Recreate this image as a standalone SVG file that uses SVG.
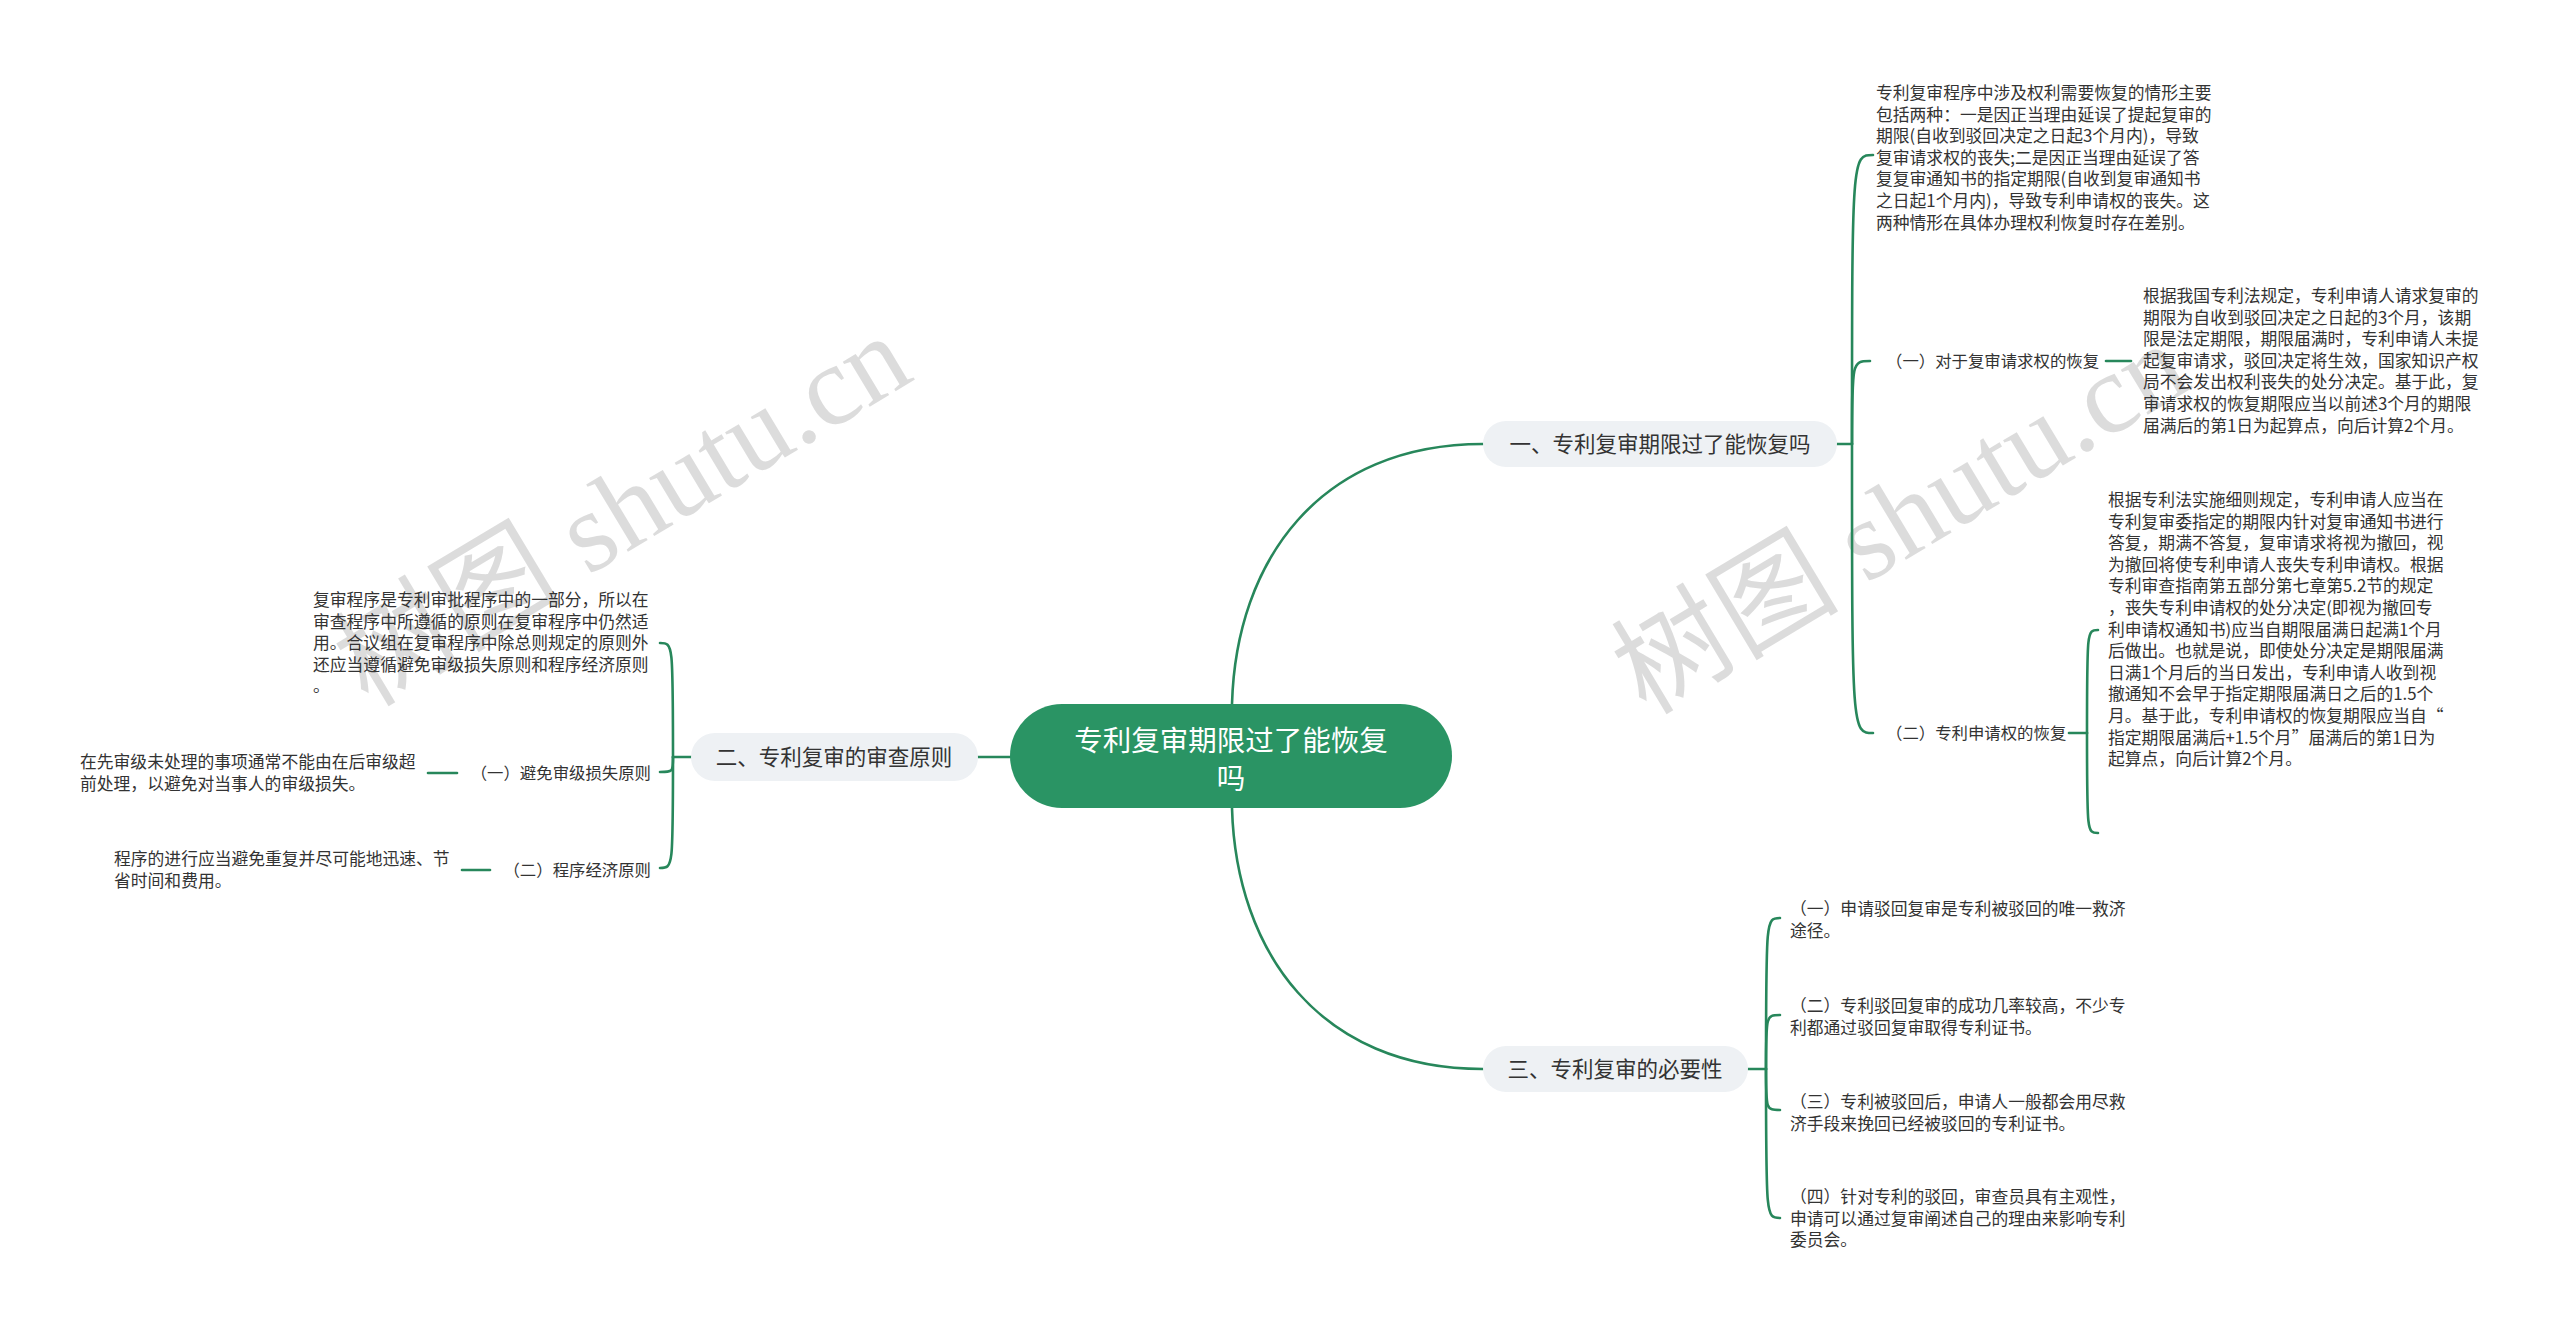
<svg xmlns="http://www.w3.org/2000/svg" width="2560" height="1332" viewBox="0 0 2560 1332">
<style>
.bg{fill:#ffffff}
.wm{font-family:"Liberation Serif","Noto Sans CJK SC",serif;font-size:114px;fill:#9a9a9a;fill-opacity:0.35}
.conn path,.conn line{fill:none;stroke:#27875b;stroke-width:2.6;stroke-linecap:round}
.root rect{fill:#2a9464}
.root text{font-family:"Noto Sans CJK SC",sans-serif;font-size:28.5px;fill:#ffffff;text-anchor:middle}
.pill rect{fill:#eef1f4}
.pill text{font-family:"Noto Sans CJK SC",sans-serif;font-size:21.5px;fill:#333333;text-anchor:middle}
.txt{font-family:"Noto Sans CJK SC",sans-serif;font-size:16.8px;fill:#333333}
.lbl{font-family:"Noto Sans CJK SC",sans-serif;font-size:16.4px;fill:#333333}
</style>
<rect class="bg" x="0" y="0" width="2560" height="1332"/>
<g id="watermarks">
<text class="wm" x="368" y="708" transform="rotate(-31 368 708)">树图 shutu.cn</text>
<text class="wm" x="1646" y="716" transform="rotate(-31 1646 716)">树图 shutu.cn</text>
</g>
<g id="connectors" class="conn">
<path d="M1232,704 C1236,560 1320,444 1483,444"/>
<path d="M1232,808 C1236,952 1320,1069 1483,1069"/>
<line x1="978" y1="757" x2="1010" y2="757"/>
<line x1="1837" y1="444" x2="1852" y2="444"/>
<path d="M1852,444 C1852,155 1852,155 1873,155"/>
<path d="M1852,444 C1852,361 1852,361 1870,361"/>
<path d="M1852,444 C1852,733 1852,733 1873,733"/>
<line x1="2106" y1="361" x2="2131" y2="361"/>
<line x1="2069" y1="733" x2="2087" y2="733"/>
<path d="M2087,733 C2087,630 2087,630 2098,630"/>
<path d="M2087,733 C2087,833 2087,833 2098,833"/>
<line x1="1748" y1="1069" x2="1766" y2="1069"/>
<path d="M1766,1069 C1766,918 1766,918 1780,918"/>
<path d="M1766,1069 C1766,1015 1766,1015 1780,1015"/>
<path d="M1766,1069 C1766,1110 1766,1110 1780,1110"/>
<path d="M1766,1069 C1766,1218 1766,1218 1780,1218"/>
<line x1="673" y1="757" x2="692" y2="757"/>
<path d="M673,757 C673,643 673,643 660,643"/>
<path d="M673,757 C673,772 673,772 660,772"/>
<path d="M673,757 C673,868 673,868 660,868"/>
<line x1="428" y1="773" x2="457" y2="773"/>
<line x1="462" y1="870" x2="490" y2="870"/>
</g>
<g id="root" class="root">
<rect x="1010" y="704" width="442" height="104" rx="52"/>
<text x="1231" y="751">专利复审期限过了能恢复</text>
<text x="1231" y="789">吗</text>
</g>
<g id="b1" class="pill">
<rect x="1483" y="421" width="354" height="46" rx="23"/>
<text x="1660" y="452">一、专利复审期限过了能恢复吗</text>
</g>
<g id="b2" class="pill">
<rect x="691" y="733" width="287" height="48" rx="24"/>
<text x="834" y="765">二、专利复审的审查原则</text>
</g>
<g id="b3" class="pill">
<rect x="1483" y="1046" width="265" height="46" rx="23"/>
<text x="1615" y="1077">三、专利复审的必要性</text>
</g>
<g id="b1-a">
<text class="txt" x="1876" y="99"><tspan x="1876" dy="0">专利复审程序中涉及权利需要恢复的情形主要</tspan><tspan x="1876" dy="21.6">包括两种：一是因正当理由延误了提起复审的</tspan><tspan x="1876" dy="21.6">期限(自收到驳回决定之日起3个月内)，导致</tspan><tspan x="1876" dy="21.6">复审请求权的丧失;二是因正当理由延误了答</tspan><tspan x="1876" dy="21.6">复复审通知书的指定期限(自收到复审通知书</tspan><tspan x="1876" dy="21.6">之日起1个月内)，导致专利申请权的丧失。这</tspan><tspan x="1876" dy="21.6">两种情形在具体办理权利恢复时存在差别。</tspan></text>
</g>
<g id="b1-1">
<text class="lbl" x="1886" y="367">（一）对于复审请求权的恢复</text>
</g>
<g id="b1-1-a">
<text class="txt" x="2143" y="302"><tspan x="2143" dy="0">根据我国专利法规定，专利申请人请求复审的</tspan><tspan x="2143" dy="21.6">期限为自收到驳回决定之日起的3个月，该期</tspan><tspan x="2143" dy="21.6">限是法定期限，期限届满时，专利申请人未提</tspan><tspan x="2143" dy="21.6">起复审请求，驳回决定将生效，国家知识产权</tspan><tspan x="2143" dy="21.6">局不会发出权利丧失的处分决定。基于此，复</tspan><tspan x="2143" dy="21.6">审请求权的恢复期限应当以前述3个月的期限</tspan><tspan x="2143" dy="21.6">届满后的第1日为起算点，向后计算2个月。</tspan></text>
</g>
<g id="b1-2">
<text class="lbl" x="1886" y="739">（二）专利申请权的恢复</text>
</g>
<g id="b1-2-a">
<text class="txt" x="2108" y="506"><tspan x="2108" dy="0">根据专利法实施细则规定，专利申请人应当在</tspan><tspan x="2108" dy="21.6">专利复审委指定的期限内针对复审通知书进行</tspan><tspan x="2108" dy="21.6">答复，期满不答复，复审请求将视为撤回，视</tspan><tspan x="2108" dy="21.6">为撤回将使专利申请人丧失专利申请权。根据</tspan><tspan x="2108" dy="21.6">专利审查指南第五部分第七章第5.2节的规定</tspan><tspan x="2108" dy="21.6">，丧失专利申请权的处分决定(即视为撤回专</tspan><tspan x="2108" dy="21.6">利申请权通知书)应当自期限届满日起满1个月</tspan><tspan x="2108" dy="21.6">后做出。也就是说，即使处分决定是期限届满</tspan><tspan x="2108" dy="21.6">日满1个月后的当日发出，专利申请人收到视</tspan><tspan x="2108" dy="21.6">撤通知不会早于指定期限届满日之后的1.5个</tspan><tspan x="2108" dy="21.6">月。基于此，专利申请权的恢复期限应当自“</tspan><tspan x="2108" dy="21.6">指定期限届满后+1.5个月”届满后的第1日为</tspan><tspan x="2108" dy="21.6">起算点，向后计算2个月。</tspan></text>
</g>
<g id="b3-1">
<text class="txt" x="1790" y="915"><tspan x="1790" dy="0">（一）申请驳回复审是专利被驳回的唯一救济</tspan><tspan x="1790" dy="21.6">途径。</tspan></text>
</g>
<g id="b3-2">
<text class="txt" x="1790" y="1012"><tspan x="1790" dy="0">（二）专利驳回复审的成功几率较高，不少专</tspan><tspan x="1790" dy="21.6">利都通过驳回复审取得专利证书。</tspan></text>
</g>
<g id="b3-3">
<text class="txt" x="1790" y="1108"><tspan x="1790" dy="0">（三）专利被驳回后，申请人一般都会用尽救</tspan><tspan x="1790" dy="21.6">济手段来挽回已经被驳回的专利证书。</tspan></text>
</g>
<g id="b3-4">
<text class="txt" x="1790" y="1203"><tspan x="1790" dy="0">（四）针对专利的驳回，审查员具有主观性，</tspan><tspan x="1790" dy="21.6">申请可以通过复审阐述自己的理由来影响专利</tspan><tspan x="1790" dy="21.6">委员会。</tspan></text>
</g>
<g id="b2-a">
<text class="txt" x="313" y="606"><tspan x="313" dy="0">复审程序是专利审批程序中的一部分，所以在</tspan><tspan x="313" dy="21.6">审查程序中所遵循的原则在复审程序中仍然适</tspan><tspan x="313" dy="21.6">用。合议组在复审程序中除总则规定的原则外</tspan><tspan x="313" dy="21.6">还应当遵循避免审级损失原则和程序经济原则</tspan><tspan x="313" dy="21.6">。</tspan></text>
</g>
<g id="b2-1">
<text class="lbl" x="651" y="779" text-anchor="end">（一）避免审级损失原则</text>
</g>
<g id="b2-1-a">
<text class="txt" x="80" y="768"><tspan x="80" dy="0">在先审级未处理的事项通常不能由在后审级超</tspan><tspan x="80" dy="21.6">前处理，以避免对当事人的审级损失。</tspan></text>
</g>
<g id="b2-2">
<text class="lbl" x="651" y="876" text-anchor="end">（二）程序经济原则</text>
</g>
<g id="b2-2-a">
<text class="txt" x="114" y="865"><tspan x="114" dy="0">程序的进行应当避免重复并尽可能地迅速、节</tspan><tspan x="114" dy="21.6">省时间和费用。</tspan></text>
</g>
</svg>
